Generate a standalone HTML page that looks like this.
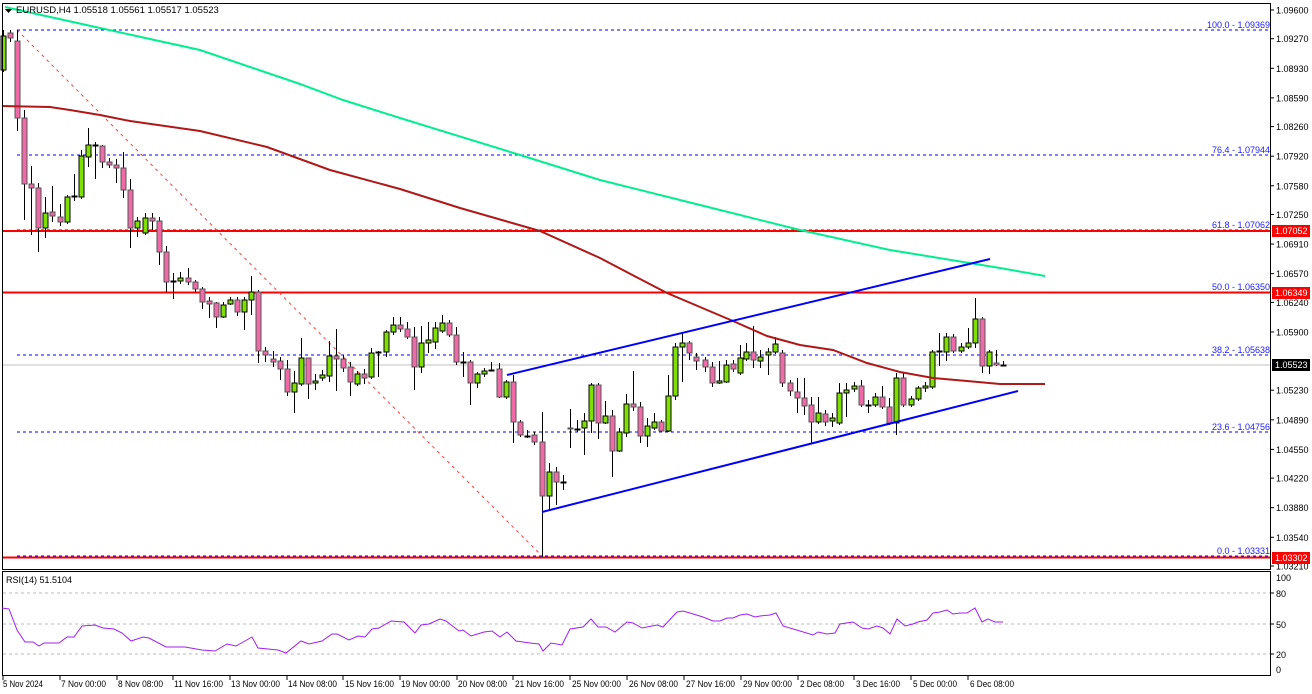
<!DOCTYPE html>
<html><head><meta charset="utf-8"><style>
html,body{margin:0;padding:0;background:#fff;width:1312px;height:694px;overflow:hidden}
svg{display:block;font-family:"Liberation Sans",sans-serif}
</style></head><body>
<svg id="s" width="1312" height="694" xmlns="http://www.w3.org/2000/svg">
<rect x="0" y="0" width="1312" height="694" fill="#fff"/>
<g stroke="#0000ff" stroke-width="1" stroke-dasharray="3,3">
<line x1="17" y1="30" x2="1271" y2="30"/>
<line x1="17" y1="155" x2="1271" y2="155"/>
<line x1="17" y1="230" x2="1271" y2="230"/>
<line x1="17" y1="292" x2="1271" y2="292"/>
<line x1="17" y1="355" x2="1271" y2="355"/>
<line x1="17" y1="432" x2="1271" y2="432"/>
<line x1="17" y1="556" x2="1271" y2="556"/>
</g>
<line x1="2" y1="365" x2="1271" y2="365" stroke="#c0c0c0" stroke-width="1"/>
<g stroke="#ff0000" stroke-width="2">
<line x1="2" y1="231" x2="1271" y2="231"/>
<line x1="2" y1="292.5" x2="1271" y2="292.5"/>
<line x1="2" y1="557.5" x2="1271" y2="557.5"/>
</g>
<line x1="17" y1="30" x2="542" y2="556" stroke="#ff4040" stroke-width="1" stroke-dasharray="3,4"/>
<g font-size="9" fill="#2020ff" text-anchor="end">
<text x="1270" y="28">100.0 - 1.09369</text>
<text x="1270" y="153">76.4 - 1.07944</text>
<text x="1270" y="228">61.8 - 1.07062</text>
<text x="1270" y="290">50.0 - 1.06350</text>
<text x="1270" y="353">38.2 - 1.05638</text>
<text x="1270" y="430">23.6 - 1.04756</text>
<text x="1270" y="554">0.0 - 1.03331</text>
</g>
<g id="candles"></g>
<polyline fill="none" stroke="#00ee90" stroke-width="2" points="5,7 100,28 200,50 300,84 343,100 400,118 520,155 600,180 700,205 800,230 890,250 1000,268 1045,276"/>
<polyline fill="none" stroke="#b01818" stroke-width="2" points="2,106 50,107 70,110 100,115 130,121 200,131 267,147 330,170 400,189 460,208 540,231 600,258 642,280 667,293 700,307 733,321 767,336 800,345 833,350 867,363 900,372 933,378 967,381 1000,384 1045,384"/>
<line x1="507" y1="375" x2="990" y2="259" stroke="#0000ff" stroke-width="2"/>
<line x1="542" y1="512" x2="1018" y2="391" stroke="#0000ff" stroke-width="2"/>
<rect x="2.5" y="3.5" width="1268" height="566" fill="none" stroke="#000" stroke-width="1"/>
<rect x="2.5" y="571.5" width="1268" height="104" fill="none" stroke="#000" stroke-width="1"/>
<g stroke="#bbb" stroke-dasharray="3,3"><line x1="3" y1="593" x2="1270" y2="593"/><line x1="3" y1="624" x2="1270" y2="624"/><line x1="3" y1="654" x2="1270" y2="654"/></g>
<polyline fill="none" stroke="#a020f0" stroke-width="1" points="2,608 9,609 17,630 25,642 33,642 39,646 44,643 59,643 67,637 74,637 82,626 95,625 103,628 114,629 122,633 131,641 143,637 149,638 166,647 177,647 185,647 202,650 215,651 227,644 236,646 252,637 258,648 278,650 286,653 301,641 309,644 322,641 332,634 337,634 349,640 358,636 365,637 372,629 379,628 391,621 404,622 415,633 421,625 429,624 440,619 446,621 459,631 463,630 471,636 484,632 492,631 500,637 507,632 516,641 530,643 539,644 543,651 551,643 562,645 570,629 583,627 591,619 598,627 606,627 615,632 627,622 633,623 642,628 657,625 663,627 677,612 683,611 690,613 703,617 713,621 720,621 727,618 733,618 740,615 747,614 755,617 760,616 770,615 776,613 783,626 800,631 813,635 818,632 827,634 835,633 840,624 853,622 862,628 868,629 877,626 883,628 890,634 897,619 905,626 913,624 918,622 927,620 933,613 940,612 947,610 953,614 960,613 967,613 975,608 982,622 988,619 995,622 1003,622"/>
<text x="6" y="583" font-size="9" fill="#000">RSI(14) 51.5104</text>
<path d="M5,9 L12,9 L8.5,13 Z" fill="#000"/>
<text x="16" y="13" font-size="9.5" fill="#000">EURUSD,H4  1.05518 1.05561 1.05517 1.05523</text>
<g id="pax" font-size="9" fill="#000"></g>
<g font-size="9" fill="#fff">
<rect x="1272" y="225" width="38" height="12" fill="#ff0000"/><text x="1275" y="234">1.07052</text>
<rect x="1272" y="287" width="38" height="12" fill="#ff0000"/><text x="1275" y="296">1.06349</text>
<rect x="1272" y="552" width="38" height="12" fill="#ff0000"/><text x="1275" y="561">1.03302</text>
<rect x="1272" y="359" width="38" height="12" fill="#000"/><text x="1275" y="368">1.05523</text>
</g>
<g font-size="9" fill="#000">
<text x="1276" y="581">100</text><text x="1276" y="597">80</text><text x="1276" y="628">50</text><text x="1276" y="658">20</text><text x="1276" y="673">0</text>
</g>
<g stroke="#000"><line x1="1271" y1="593" x2="1274" y2="593"/><line x1="1271" y1="624" x2="1274" y2="624"/><line x1="1271" y1="654" x2="1274" y2="654"/></g>
<g font-size="9" fill="#000" lengthAdjust="spacingAndGlyphs">
<text x="3" y="687" textLength="40" lengthAdjust="spacingAndGlyphs">5 Nov 2024</text>
<text x="61" y="687" textLength="45" lengthAdjust="spacingAndGlyphs">7 Nov 00:00</text>
<text x="118" y="687" textLength="45" lengthAdjust="spacingAndGlyphs">8 Nov 08:00</text>
<text x="174" y="687" textLength="49" lengthAdjust="spacingAndGlyphs">11 Nov 16:00</text>
<text x="231" y="687" textLength="49" lengthAdjust="spacingAndGlyphs">13 Nov 00:00</text>
<text x="288" y="687" textLength="49" lengthAdjust="spacingAndGlyphs">14 Nov 08:00</text>
<text x="345" y="687" textLength="49" lengthAdjust="spacingAndGlyphs">15 Nov 16:00</text>
<text x="401" y="687" textLength="49" lengthAdjust="spacingAndGlyphs">19 Nov 00:00</text>
<text x="458" y="687" textLength="49" lengthAdjust="spacingAndGlyphs">20 Nov 08:00</text>
<text x="515" y="687" textLength="49" lengthAdjust="spacingAndGlyphs">21 Nov 16:00</text>
<text x="572" y="687" textLength="49" lengthAdjust="spacingAndGlyphs">25 Nov 00:00</text>
<text x="629" y="687" textLength="49" lengthAdjust="spacingAndGlyphs">26 Nov 08:00</text>
<text x="686" y="687" textLength="49" lengthAdjust="spacingAndGlyphs">27 Nov 16:00</text>
<text x="743" y="687" textLength="49" lengthAdjust="spacingAndGlyphs">29 Nov 00:00</text>
<text x="800" y="687" textLength="44" lengthAdjust="spacingAndGlyphs">2 Dec 08:00</text>
<text x="856" y="687" textLength="44" lengthAdjust="spacingAndGlyphs">3 Dec 16:00</text>
<text x="913" y="687" textLength="44" lengthAdjust="spacingAndGlyphs">5 Dec 00:00</text>
<text x="970" y="687" textLength="44" lengthAdjust="spacingAndGlyphs">6 Dec 08:00</text>
</g>
<g id="tt" stroke="#000"></g>
</svg>
<script>
var NS="http://www.w3.org/2000/svg";
function el(p,n,a){var e=document.createElementNS(NS,n);for(var k in a)e.setAttribute(k,a[k]);p.appendChild(e);return e;}
var pax=document.getElementById("pax");
var labs=["1.09600","1.09270","1.08930","1.08590","1.08260","1.07920","1.07580","1.07250","1.06910","1.06570","1.06240","1.05900","1.05560","1.05230","1.04890","1.04550","1.04220","1.03880","1.03540","1.03210"];
labs.forEach(function(l){var p=parseFloat(l);var y=10+(1.096-p)*8701;
 if(l=="1.05560")return;
 el(pax,"line",{x1:1271,y1:y,x2:1274,y2:y,stroke:"#000"});
 var t=el(pax,"text",{x:1276,y:y+3.5});t.textContent=l;});
var tt=document.getElementById("tt");
[3,60,117,173,230,287,343,400,457,513,570,627,684,741,798,854,911,968].forEach(function(x){el(tt,"line",{x1:x,y1:676,x2:x,y2:680});});
var C=[
[3,36,70,30,72,1],[10,33,38,30,42,0],[17,41,118,30,131,0],[24,118,184,110,220,0],[31,184,188,166,235,0],[38,188,228,183,252,0],[45,213,228,197,238,1],[52,212,216,186,222,0],[60,217,222,204,226,0],[67,197,222,195,224,1],[74,196,197,174,201,1],[81,156,197,150,199,1],[88,145,157,128,167,1],[95,145,146,142,179,1],[102,146,162,145,168,0],[109,162,165,158,168,0],[116,165,168,159,183,0],[123,168,190,152,198,0],[130,190,228,179,248,0],[137,221,228,217,237,1],[145,218,233,213,235,1],[152,218,221,213,230,0],[159,221,252,217,265,0],[166,252,282,246,292,0],[173,281,282,273,299,1],[180,278,281,272,284,1],[188,278,282,268,285,0],[195,282,289,280,292,0],[202,289,302,287,309,0],[209,301,304,297,318,0],[216,303,317,302,328,0],[223,305,317,302,318,1],[230,300,304,297,305,1],[237,300,312,297,316,0],[244,300,312,297,330,1],[251,292,300,276,315,1],[258,292,351,290,363,0],[265,351,355,347,362,0],[273,359,362,351,367,0],[280,361,369,357,380,0],[287,369,392,360,396,0],[294,383,392,371,413,1],[301,358,384,338,386,1],[308,358,384,358,399,0],[315,381,383,374,390,1],[322,375,378,370,381,1],[329,356,376,341,382,1],[336,356,359,329,391,0],[343,359,368,355,372,0],[350,367,382,362,396,0],[357,374,384,371,386,1],[364,374,378,369,384,0],[371,353,377,348,379,1],[378,352,353,351,377,1],[386,332,352,330,357,1],[393,325,332,317,335,1],[400,325,329,317,332,0],[407,329,337,322,339,0],[414,337,367,327,390,0],[421,343,367,326,373,1],[428,340,343,322,353,1],[435,328,342,322,349,1],[442,323,331,315,333,1],[449,323,335,320,337,0],[456,335,362,327,365,0],[463,362,363,352,377,1],[470,362,383,360,405,0],[477,374,383,372,388,1],[484,371,374,368,377,1],[491,370,371,362,371,1],[499,369,397,363,398,0],[506,382,397,380,399,1],[513,382,422,375,443,0],[520,422,435,420,437,0],[527,436,437,430,438,1],[534,435,442,432,445,0],[542,442,496,412,557,0],[549,472,496,463,510,1],[556,472,482,467,505,0],[563,482,483,475,490,1],[570,428,429,409,448,0],[577,429,430,420,432,1],[584,421,428,413,455,1],[591,385,421,383,433,1],[598,385,423,383,439,0],[605,416,423,401,424,1],[612,416,451,410,477,0],[619,432,451,428,452,1],[626,404,433,394,437,1],[633,404,407,371,411,0],[640,407,436,402,443,0],[647,426,436,418,447,1],[654,422,428,413,430,1],[661,422,431,420,432,0],[668,396,431,375,432,1],[675,347,396,343,400,1],[682,343,347,333,382,1],[689,343,353,341,360,0],[696,357,361,353,370,0],[705,360,367,357,372,0],[712,367,383,362,387,0],[719,381,383,361,384,1],[726,365,382,360,383,1],[733,364,369,360,372,0],[740,358,373,345,375,1],[746,352,359,343,361,1],[753,352,360,326,368,0],[760,357,361,350,368,1],[768,352,355,348,375,1],[775,344,352,337,354,1],[782,353,383,350,387,0],[790,383,391,380,396,0],[797,392,398,378,413,0],[804,398,406,378,415,0],[811,405,422,397,443,0],[818,413,422,397,424,1],[825,414,422,410,426,0],[832,418,421,413,427,1],[839,393,423,383,425,1],[846,390,393,383,417,1],[854,386,389,382,392,1],[861,386,405,380,407,0],[868,405,406,400,413,1],[875,397,405,393,407,1],[882,397,407,386,409,0],[889,407,423,398,425,0],[896,378,423,373,435,1],[903,378,405,373,407,0],[911,399,405,396,407,1],[918,388,399,386,401,1],[925,386,388,382,392,1],[932,352,387,350,389,1],[939,351,352,333,366,1],[946,337,352,333,361,1],[953,337,351,334,353,0],[961,347,351,343,353,1],[968,343,347,328,349,1],[975,319,343,298,348,1],[982,319,366,317,373,0],[989,352,366,350,374,1],[996,363,365,350,366,0],[1003,365,366,361,366,1]
];
var g=document.getElementById("candles");
C.forEach(function(c){var x=c[0];
 el(g,"line",{x1:x+0.5,y1:c[3],x2:x+0.5,y2:c[4],stroke:"#000","stroke-width":1});
 var h=Math.max(1,c[2]-c[1]);
 el(g,"rect",{x:x-2,y:c[1],width:5,height:h,fill:c[5]?"#7fe000":"#f06aa8",stroke:c[5]?"#000":"#555","stroke-width":1});
});
</script>
</body></html>
